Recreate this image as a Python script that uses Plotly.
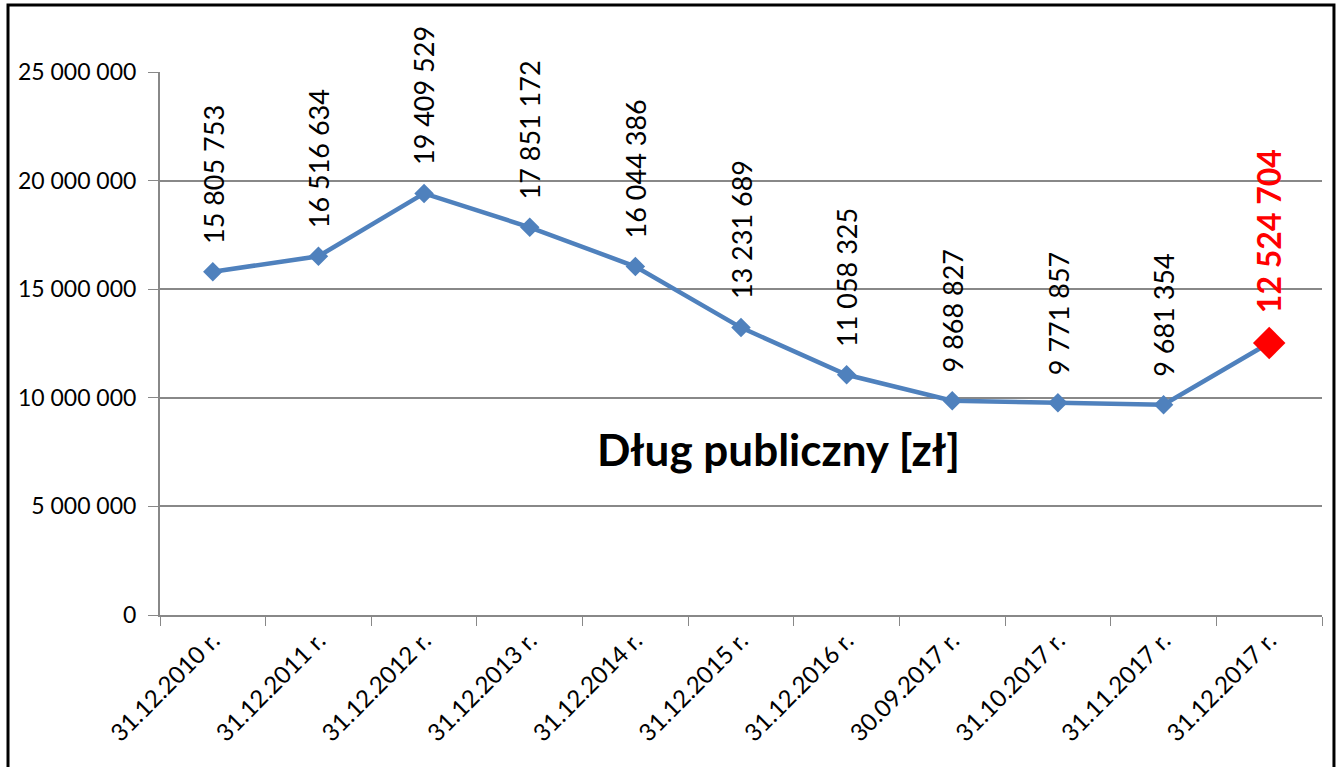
import plotly.graph_objects as go

dates = ["31.12.2010 r.", "31.12.2011 r.", "31.12.2012 r.", "31.12.2013 r.",
         "31.12.2014 r.", "31.12.2015 r.", "31.12.2016 r.", "30.09.2017 r.",
         "31.10.2017 r.", "31.11.2017 r.", "31.12.2017 r."]
debt = [15805753, 16516634, 19409529, 17851172, 16044386, 13231689,
        11058325, 9868827, 9771857, 9681354, 12524704]
y_ticks = [0, 5000000, 10000000, 15000000, 20000000, 25000000]

BLUE = "#4F81BD"
RED = "#FF0000"
FONT = "Lato"


def fmt(v):
    return f"{v:,}".replace(",", " ")


n = len(debt)
fig = go.Figure()
fig.add_trace(go.Scatter(
    x=dates, y=debt, mode="lines+markers",
    line=dict(color=BLUE, width=4.5),
    marker=dict(symbol="diamond", size=[15] * (n - 1) + [25],
                color=[BLUE] * (n - 1) + [RED], opacity=1,
                line=dict(width=0)),
    hoverinfo="x+y",
))

for i, (d, v) in enumerate(zip(dates, debt)):
    last = i == n - 1
    fig.add_annotation(
        x=d, y=v, text=f"<b>{fmt(v)}</b>" if last else fmt(v),
        textangle=-90, showarrow=False, xanchor="center", yanchor="bottom",
        yshift=28 if last else 26,
        font=dict(family=FONT, size=32 if last else 27,
                  color=RED if last else "#000000"),
    )

fig.add_annotation(
    x=0.532, y=0.306, xref="paper", yref="paper", showarrow=False,
    xanchor="center", yanchor="middle",
    text="<b>Dług publiczny [zł]</b>",
    font=dict(family=FONT, size=44, color="#000000"),
)

# frame around the whole chart
fig.add_shape(type="rect", xref="paper", yref="paper",
              x0=-0.1308, x1=1.0103, y0=-0.30, y1=1.1234,
              line=dict(color="#000000", width=3), layer="above")

fig.update_layout(
    width=1341, height=767,
    margin=dict(l=160, r=19, t=72, b=152),
    paper_bgcolor="white", plot_bgcolor="white",
    showlegend=False,
    font=dict(family=FONT, color="#000000"),
)
fig.update_xaxes(
    type="category", range=[-0.5, n - 0.5], tickson="boundaries",
    tickangle=-45, ticks="outside", ticklen=9, tickcolor="#888888",
    showline=True, linecolor="#888888", linewidth=2, showgrid=False,
    tickfont=dict(family=FONT, size=24, color="#000000"),
)
fig.update_yaxes(
    range=[0, 25000000], tickvals=y_ticks,
    ticktext=[fmt(t) for t in y_ticks],
    ticks="outside", ticklen=10, tickcolor="#888888",
    ticklabelstandoff=7,
    showline=True, linecolor="#888888", linewidth=2,
    showgrid=True, gridcolor="#888888", gridwidth=1.5, zeroline=False,
    tickfont=dict(family=FONT, size=23, color="#000000"),
)

# drop the default 8px body margin so the figure fills the window
fig.write_html("out.html", config={"displayModeBar": False},
               post_script="document.body.style.margin='0';")
